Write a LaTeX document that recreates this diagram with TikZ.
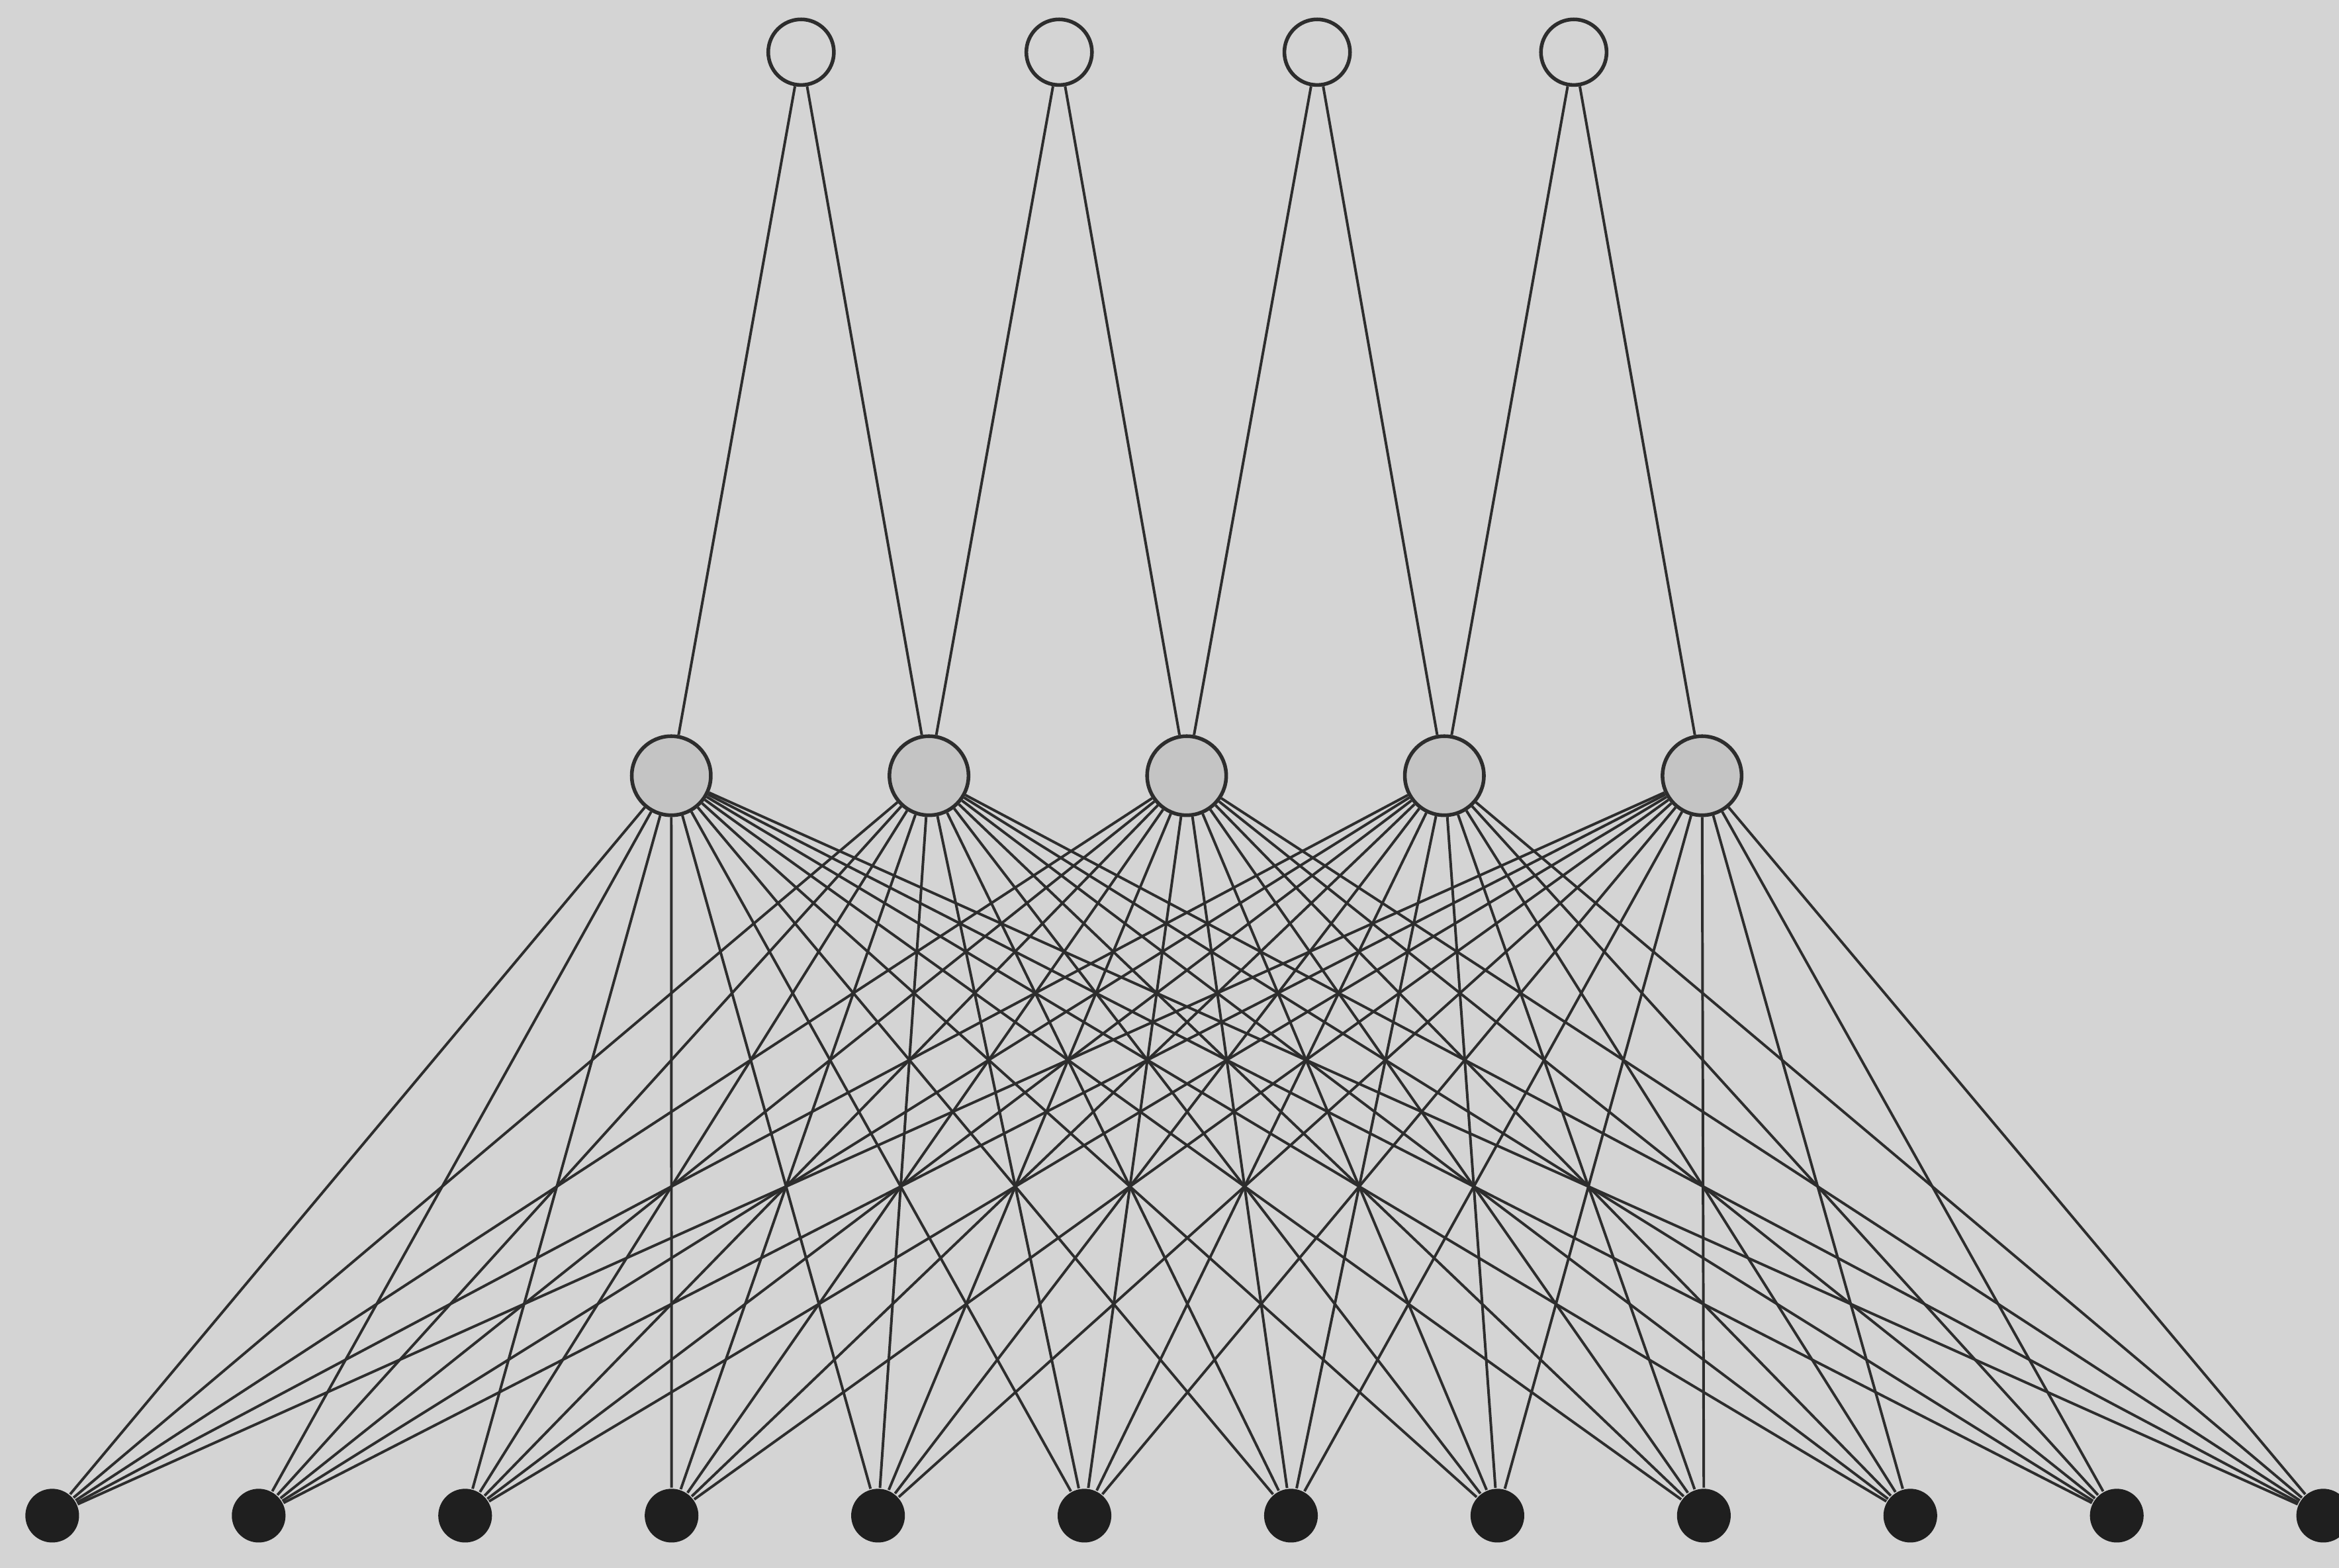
\documentclass[tikz,border=0pt]{standalone}
\usepackage{tikz}
\usetikzlibrary{positioning}
\usepackage{xcolor}
\definecolor{paper}{RGB}{212,212,212}
\definecolor{hidfill}{RGB}{196,196,196}
\definecolor{inkline}{RGB}{45,45,45}

\begin{document}
\begin{tikzpicture}[
        outn/.style={
            circle, draw=inkline, line width=0.7pt, fill=paper,
            minimum size=0.44cm, inner sep=0pt
        },
        hidn/.style={
            circle, draw=inkline, line width=0.7pt, fill=hidfill,
            minimum size=0.53cm, inner sep=0pt
        },
        inn/.style={
            circle, fill=black!88, minimum size=0.36cm, inner sep=0pt
        },
        wire/.style={draw=inkline, line width=0.5pt}
    ]

    % Paper
    \fill[paper] (0,0) rectangle (15.68,10.51);
    \useasboundingbox (0,0) rectangle (15.68,10.51);

    % Top units
    \foreach \i/\x in {1/5.37, 2/7.10, 3/8.83, 4/10.55}
        \node[outn] (t\i) at (\x, 10.16) {};

    % Middle units
    \foreach \i in {1,...,5}
        \node[hidn] (h\i) at ({4.50+1.7275*(\i-1)}, 5.31) {};

    % Bottom units
    \foreach \j in {1,...,12}
        \node[inn] (b\j) at ({0.35+1.384*(\j-1)}, 0.35) {};

    % Top to middle
    \foreach \i in {1,...,4} {
        \pgfmathtruncatemacro{\k}{\i+1}
        \draw[wire] (t\i) -- (h\i);
        \draw[wire] (t\i) -- (h\k);
    }

    % Middle to bottom
    \foreach \i in {1,...,5}
        \foreach \j in {1,...,12}
            \draw[wire] (h\i) -- (b\j);

\end{tikzpicture}
\end{document}
